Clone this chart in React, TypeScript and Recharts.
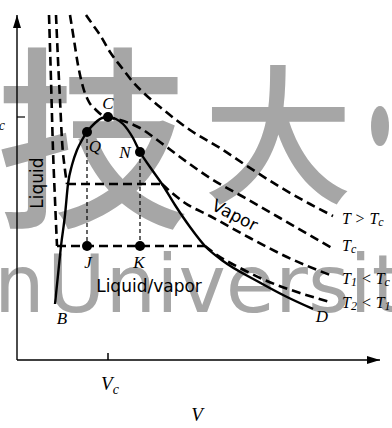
import React from "react";
import { ComposedChart, Line, Scatter, XAxis, YAxis, ReferenceDot } from "recharts";

type Pt = { v: number; p: number };
type Tag = Pt & { text: string };

// reading units: V and P in arbitrary units (Vc = 91, Pc = 243)
const VC = 91;
const PC = 243;
const V_MAX = 363;
const P_MAX = 345;

const domeCurve: Pt[] = [
  { v: 38, p: 56 }, { v: 41, p: 85 }, { v: 44, p: 114 }, { v: 48, p: 145 },
  { v: 51, p: 176 }, { v: 55, p: 195 }, { v: 60, p: 210 }, { v: 65, p: 220 },
  { v: 70, p: 228 }, { v: 78, p: 237 }, { v: 85, p: 242 }, { v: 91, p: 243 },
  { v: 99, p: 241 }, { v: 106, p: 236 }, { v: 116, p: 222 }, { v: 123, p: 208 },
  { v: 133, p: 193 }, { v: 145, p: 176 }, { v: 158, p: 155 }, { v: 173, p: 133 },
  { v: 188, p: 114 }, { v: 206, p: 99 }, { v: 240, p: 79 }, { v: 268, p: 64 },
  { v: 296, p: 51 },
];

const isoAbove: Pt[] = [
  { v: 69, p: 345 }, { v: 76, p: 335 }, { v: 83, p: 325 }, { v: 93, p: 308 },
  { v: 105, p: 292 }, { v: 116, p: 278 }, { v: 130, p: 264 }, { v: 143, p: 253 },
  { v: 173, p: 230 }, { v: 203, p: 212 }, { v: 230, p: 194 }, { v: 263, p: 173 },
  { v: 293, p: 156 }, { v: 316, p: 144 },
];

const isoCritical: Pt[] = [
  { v: 53, p: 345 }, { v: 57, p: 320 }, { v: 61, p: 295 }, { v: 66, p: 273 },
  { v: 72, p: 258 }, { v: 79, p: 250 }, { v: 85, p: 245 }, { v: 91, p: 243 },
  { v: 103, p: 240 }, { v: 123, p: 232 }, { v: 143, p: 218 }, { v: 163, p: 203 },
  { v: 193, p: 182 }, { v: 230, p: 161 }, { v: 263, p: 142 }, { v: 315, p: 112 },
];

const isoT1Liquid: Pt[] = [
  { v: 39, p: 345 }, { v: 41, p: 300 }, { v: 43, p: 260 }, { v: 45, p: 220 },
  { v: 48, p: 190 }, { v: 50, p: 176 },
];
const isoT1Tie: Pt[] = [{ v: 50, p: 176 }, { v: 145, p: 176 }];
const isoT1Vapor: Pt[] = [
  { v: 145, p: 176 }, { v: 155, p: 167 }, { v: 168, p: 157 }, { v: 193, p: 144 },
  { v: 233, p: 122 }, { v: 270, p: 103 }, { v: 313, p: 85 },
];

const isoT2Liquid: Pt[] = [
  { v: 32, p: 345 }, { v: 34, p: 280 }, { v: 36, p: 210 }, { v: 38, p: 160 },
  { v: 40, p: 114 },
];
const isoT2Tie: Pt[] = [{ v: 40, p: 114 }, { v: 188, p: 114 }];
const isoT2Vapor: Pt[] = [
  { v: 188, p: 114 }, { v: 200, p: 105 }, { v: 223, p: 92 }, { v: 250, p: 79 },
  { v: 283, p: 67 }, { v: 313, p: 58 },
];

const dropQJ: Pt[] = [{ v: 70, p: 228 }, { v: 70, p: 114 }];
const dropNK: Pt[] = [{ v: 123, p: 208 }, { v: 123, p: 114 }];

const statePoints: Tag[] = [
  { v: 70, p: 228, text: "Q" },
  { v: 91, p: 243, text: "C" },
  { v: 123, p: 208, text: "N" },
  { v: 70, p: 114, text: "J" },
  { v: 123, p: 114, text: "K" },
];

const letterLabels: Tag[] = [
  { v: 91, p: 257, text: "C" },
  { v: 78, p: 214, text: "Q" },
  { v: 108, p: 208, text: "N" },
  { v: 71, p: 98, text: "J" },
  { v: 122, p: 98, text: "K" },
  { v: 45, p: 42, text: "B" },
  { v: 305, p: 44, text: "D" },
];

const isothermLabels: Tag[] = [
  { v: 325, p: 142, text: "T > T_c" },
  { v: 325, p: 115, text: "T_c" },
  { v: 325, p: 82, text: "T_1 < T_c" },
  { v: 325, p: 58, text: "T_2 < T_1" },
];

const regionLabels: Tag[] = [
  { v: 20, p: 177, text: "Liquid" },
  { v: 218, p: 145, text: "Vapor" },
  { v: 132, p: 74, text: "Liquid/vapor" },
];

const regionAngle: Record<string, number> = { Liquid: -90, Vapor: 27 };

const SERIF = "'Liberation Serif', 'Times New Roman', serif";
const SANS = "'DejaVu Sans', sans-serif";

function richText(s: string, subSize: number) {
  const out: React.ReactNode[] = [];
  let down = false;
  s.split(/(_.)/).filter(Boolean).forEach((part, i) => {
    if (part[0] === "_") {
      out.push(
        <tspan key={i} dy={down ? 0 : 4} fontSize={subSize}>
          {part[1]}
        </tspan>
      );
      down = true;
    } else {
      out.push(
        <tspan key={i} dy={down ? -4 : 0}>
          {part}
        </tspan>
      );
      down = false;
    }
  });
  return out;
}

const dotShape = (props: any) => <circle cx={props.cx} cy={props.cy} r={5} fill="#000" />;

const letterShape = (props: any) => (
  <text x={props.cx} y={props.cy} textAnchor="middle" dominantBaseline="central"
    fontFamily={SERIF} fontStyle="italic" fontSize={17} fill="#000">
    {props.payload.text}
  </text>
);

const isoLabelShape = (props: any) => (
  <text x={props.cx} y={props.cy} dominantBaseline="central" fontFamily={SERIF}
    fontStyle="italic" fontSize={16} fill="#000" style={{ whiteSpace: "pre" }}>
    {richText(props.payload.text, 12)}
  </text>
);

const regionShape = (props: any) => {
  const a = regionAngle[props.payload.text] ?? 0;
  return (
    <text x={props.cx} y={props.cy} textAnchor="middle" dominantBaseline="central"
      fontFamily={SANS} fontSize={17} fill="#000"
      transform={a ? `rotate(${a} ${props.cx} ${props.cy})` : undefined}>
      {props.payload.text}
    </text>
  );
};

const XTick = (props: any) => {
  const { x, y } = props;
  return (
    <g>
      <line x1={x} x2={x} y1={y - 7} y2={y} stroke="#000" strokeWidth={1.5} />
      <text x={x + 2} y={y + 30} textAnchor="middle" fontFamily={SERIF} fontStyle="italic" fontSize={19} fill="#000">
        V<tspan dy={4} fontSize={14}>c</tspan>
      </text>
    </g>
  );
};

const YTick = (props: any) => {
  const { x, y } = props;
  return (
    <g>
      <line x1={x} x2={x + 8} y1={y} y2={y} stroke="#000" strokeWidth={1.2} />
      <text x={x - 12} y={y + 9} textAnchor="end" fontFamily={SERIF} fontStyle="italic" fontSize={19} fill="#000">
        P<tspan dy={4} fontSize={14}>c</tspan>
      </text>
    </g>
  );
};

const vLabel = (props: any) => {
  const vb = props.viewBox;
  return (
    <text x={vb.x + 180} y={vb.y + 61} textAnchor="middle" fontFamily={SERIF} fontStyle="italic" fontSize={19} fill="#000">
      V
    </text>
  );
};

const dashed = { stroke: "#000", strokeWidth: 2.6, strokeDasharray: "9 5", dot: false, isAnimationActive: false } as const;

function Watermark() {
  const grey = "#a6a6a6";
  const wm = "'DejaVu Sans', sans-serif";
  return (
    <svg width={392} height={428} style={{ position: "absolute", left: 0, top: 0 }}>
      <text x={-5} y={213} fontFamily="'Noto Sans CJK SC'" fontWeight={500} fontSize={195} fill={grey}>技</text>
      <text x={203} y={192} fontFamily="'Noto Sans CJK SC'" fontWeight={500} fontSize={150} fill={grey}>大</text>
      <ellipse cx={380} cy={126} rx={9} ry={20} fill={grey} />
      <text x={-6} y={312} fontFamily={wm} fontSize={80} fill={grey}>n</text>
      <text x={47} y={312} fontFamily={wm} fontSize={80} fill={grey}>University</text>
    </svg>
  );
}

export default function App() {
  return (
    <div style={{ position: "absolute", left: 0, top: 0, width: 392, height: 428, background: "#fff", overflow: "hidden" }}>
      <Watermark />
      <div style={{ position: "absolute", left: 0, top: 0 }}>
        <ComposedChart width={392} height={428} margin={{ top: 15, right: 12, left: 0, bottom: 0 }}>
          <XAxis type="number" dataKey="v" domain={[0, V_MAX]} ticks={[VC]} height={68}
            axisLine={{ stroke: "#000", strokeWidth: 1.6 }} tickLine={false} tickSize={0} tickMargin={0}
            tick={<XTick />} label={{ value: "V", content: vLabel }} />
          <YAxis type="number" dataKey="p" domain={[0, P_MAX]} ticks={[PC]} width={17}
            axisLine={{ stroke: "#000", strokeWidth: 1.4 }} tickLine={false} tickSize={0} tickMargin={0}
            tick={<YTick />} />

          <Line data={isoAbove} dataKey="p" type="monotone" {...dashed} />
          <Line data={isoCritical} dataKey="p" type="monotone" {...dashed} />
          <Line data={isoT1Liquid} dataKey="p" type="monotone" {...dashed} />
          <Line data={isoT1Tie} dataKey="p" type="linear" {...dashed} />
          <Line data={isoT1Vapor} dataKey="p" type="monotone" {...dashed} />
          <Line data={isoT2Liquid} dataKey="p" type="monotone" {...dashed} />
          <Line data={isoT2Tie} dataKey="p" type="linear" {...dashed} />
          <Line data={isoT2Vapor} dataKey="p" type="monotone" {...dashed} />
          <Line data={dropQJ} dataKey="p" type="linear" stroke="#000" strokeWidth={1.2} strokeDasharray="4 3" dot={false} isAnimationActive={false} />
          <Line data={dropNK} dataKey="p" type="linear" stroke="#000" strokeWidth={1.2} strokeDasharray="4 3" dot={false} isAnimationActive={false} />
          <Line data={domeCurve} dataKey="p" type="monotone" stroke="#000" strokeWidth={2.4} dot={false} isAnimationActive={false} />

          <Scatter data={statePoints} dataKey="p" shape={dotShape} isAnimationActive={false} />
          <Scatter data={letterLabels} dataKey="p" shape={letterShape} isAnimationActive={false} />
          <Scatter data={isothermLabels} dataKey="p" shape={isoLabelShape} isAnimationActive={false} />
          <Scatter data={regionLabels} dataKey="p" shape={regionShape} isAnimationActive={false} />

          <ReferenceDot x={0} y={P_MAX} r={0} ifOverflow="visible"
            shape={(p: any) => <path d={`M${p.cx},${p.cy} l-4,13 l8,0 z`} fill="#000" />} />
          <ReferenceDot x={V_MAX} y={0} r={0} ifOverflow="visible"
            shape={(p: any) => <path d={`M${p.cx},${p.cy} l-13,-4 l0,8 z`} fill="#000" />} />
        </ComposedChart>
      </div>
    </div>
  );
}
